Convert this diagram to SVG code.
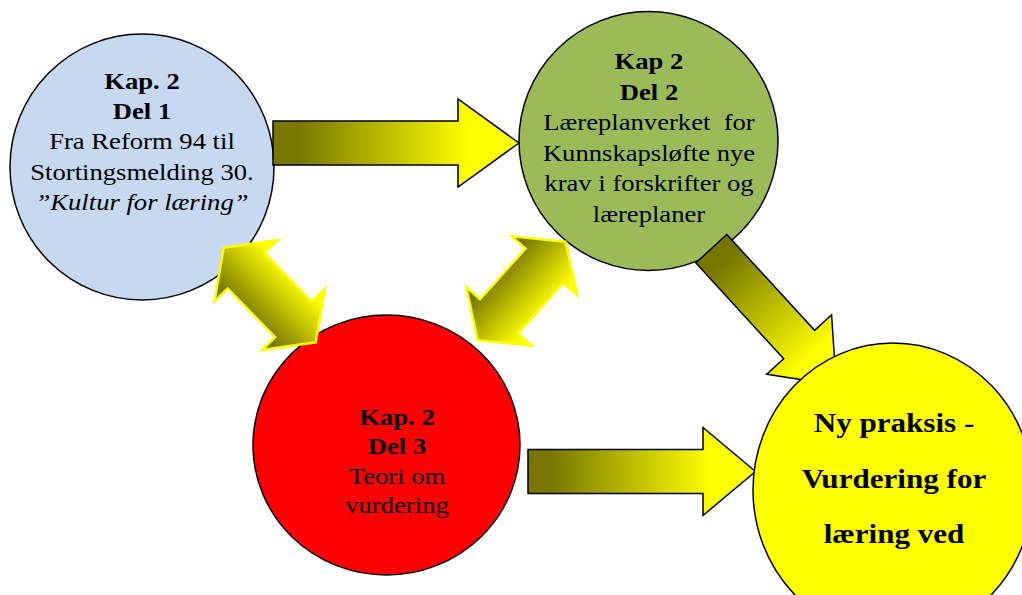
<svg xmlns="http://www.w3.org/2000/svg" width="1022" height="595" viewBox="0 0 1022 595">
  <style>
    .node { stroke: #000; stroke-width: 1.5; }
    .t { font-family: "Liberation Serif", "Times New Roman", serif; font-size: 24px; text-anchor: middle; fill: #000; }
    .b { font-weight: bold; }
    .i { font-style: italic; }
    .big { font-size: 28px; font-weight: bold; }
    .flow { stroke: #000; stroke-width: 1.5; stroke-linejoin: miter; }
    .swap { stroke: #ffff00; stroke-width: 2.5; stroke-linejoin: miter; }
  </style>
  <defs>
    <!-- olive-to-yellow shading along the arrow length -->
    <linearGradient id="gFlow" x1="0" y1="0" x2="1" y2="0">
      <stop offset="0" stop-color="#777700"/>
      <stop offset="0.1" stop-color="#777700"/>
      <stop offset="0.8" stop-color="#ffff00"/>
      <stop offset="1" stop-color="#ffff00"/>
    </linearGradient>
    <!-- shading across the two-way arrows -->
    <linearGradient id="gSwapDown" x1="0" y1="0.85" x2="0" y2="0.15">
      <stop offset="0" stop-color="#7a7a00"/>
      <stop offset="1" stop-color="#ffff00"/>
    </linearGradient>
    <linearGradient id="gSwapUp" x1="0" y1="0.15" x2="0" y2="0.85">
      <stop offset="0" stop-color="#7a7a00"/>
      <stop offset="1" stop-color="#ffff00"/>
    </linearGradient>
    <polygon id="dbl" points="-66,0 -34,-44 -34,-25.5 34,-25.5 34,-44 66,0 34,44 34,25.5 -34,25.5 -34,44"/>
  </defs>

  <rect width="1022" height="595" fill="#fff"/>

  <g id="node-del1">
    <ellipse class="node" cx="142" cy="167" rx="132" ry="133" fill="#c6d9f1"/>
    <g transform="matrix(1.11 0 0 1 142 0)">
      <text class="t b" x="0" y="89">Kap. 2</text>
      <text class="t b" x="0" y="119.5">Del 1</text>
      <text class="t" x="0" y="149.5">Fra Reform 94 til</text>
      <text class="t" x="0" y="180">Stortingsmelding 30.</text>
      <text class="t i" x="0" y="210">”Kultur for læring”</text>
    </g>
  </g>

  <g id="node-del2">
    <ellipse class="node" cx="648.5" cy="141" rx="129.5" ry="129.5" fill="#9bbb59"/>
    <g transform="matrix(1.11 0 0 1 649 0)">
      <text class="t b" x="0" y="69.5">Kap 2</text>
      <text class="t b" x="0" y="100">Del 2</text>
      <text class="t" x="0" y="130.5" xml:space="preserve">Læreplanverket  for</text>
      <text class="t" x="0" y="161">Kunnskapsløfte nye</text>
      <text class="t" x="0" y="191.5">krav i forskrifter og</text>
      <text class="t" x="0" y="222">læreplaner</text>
    </g>
  </g>

  <g id="node-del3">
    <ellipse class="node" cx="386.5" cy="445" rx="133.5" ry="130" fill="#ff0000"/>
    <g transform="matrix(1.11 0 0 1 397 0)">
      <text class="t b" x="0" y="425">Kap. 2</text>
      <text class="t b" x="0" y="454.5">Del 3</text>
      <text class="t" x="0" y="484">Teori om</text>
      <text class="t" x="0" y="513.5">vurdering</text>
    </g>
  </g>

  <g id="connectors">
    <!-- Del 1 -> Del 2 -->
    <polygon class="flow" fill="url(#gFlow)" points="273,121 458,121 458,99 519,143 458,187 458,165 273,165"/>
    <!-- Del 3 -> Ny praksis -->
    <polygon class="flow" fill="url(#gFlow)" points="528,449.5 703,449.5 703,427.5 755.5,471.5 703,515.5 703,493.5 528,493.5"/>
    <!-- Del 2 -> Ny praksis -->
    <polygon class="flow" fill="url(#gFlow)" transform="translate(711.3,248.7) rotate(47.5)" points="0,-21 130,-21 130,-44 185,0 130,44 130,21 0,21"/>
    <!-- Del 1 <-> Del 3 -->
    <use href="#dbl" class="swap" fill="url(#gSwapDown)" transform="translate(269.7,295) rotate(45.8)"/>
    <!-- Del 3 <-> Del 2 -->
    <use href="#dbl" class="swap" fill="url(#gSwapUp)" transform="translate(521.7,291) rotate(-48.1)"/>
  </g>

  <g id="node-praksis">
    <ellipse class="node" cx="893" cy="490" rx="140" ry="147" fill="#ffff00"/>
    <g transform="matrix(1.11 0 0 1 894 0)">
      <text class="t big" x="0" y="432">Ny praksis -</text>
      <text class="t big" x="0" y="488">Vurdering for</text>
      <text class="t big" x="0" y="543.5">læring ved</text>
    </g>
  </g>
</svg>
